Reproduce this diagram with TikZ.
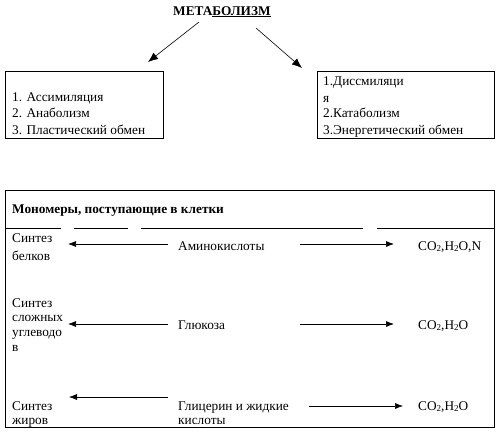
\documentclass[tikz,border=0pt]{standalone}
\usepackage{fontspec}
\setmainfont{Liberation Serif}
\usetikzlibrary{arrows.meta}
\newcommand\sbtwo{\raisebox{-0.3ex}{\fontsize{9}{9}\selectfont 2}}
\tikzset{
  txt/.style={anchor=base west,inner sep=0pt,font=\fontsize{13.3}{15}\selectfont},
  box/.style={draw,line width=0.8pt},
  bigarr/.style={line width=0.6pt,-{Latex[length=10pt,width=8pt]}},
  arr/.style={line width=0.7pt,-{Latex[length=8pt,width=6pt]}},
  thinarr/.style={line width=0.5pt,-{Latex[length=8pt,width=6pt]}},
}
\begin{document}
\begin{tikzpicture}[x=1pt,y=-1pt]
\useasboundingbox (0,0) rectangle (500,432);
% title
\node[txt,font=\bfseries\fontsize{13.3}{15}\selectfont] (title) at (173,15) {МЕТА\underline{БОЛИЗМ}};
\coordinate (t1) at (199,22);
\coordinate (t2) at (256,28);
\coordinate (lb) at (148,62);
\coordinate (rb) at (302,68);
\draw[bigarr] (t1) -- (lb);
\draw[bigarr] (t2) -- (rb);
% left box
\draw[box] (5,71) rectangle (163,138);
\node[txt] (a1) at (12,101) {1. Ассимиляция};
\node[txt] (a2) at (12,117) {2. Анаболизм};
\node[txt] (a3) at (12,134) {3. Пластический обмен};
% right box
\draw[box] (317,71) rectangle (494,138);
\node[txt] (d1) at (323,85) {1.Диссмиляци};
\node[txt] (d1b) at (323,102) {я};
\node[txt] (d2) at (323,117) {2.Катаболизм};
\node[txt] (d3) at (323,134) {3.Энергетический обмен};
% bottom table
\draw[box] (5,190) rectangle (494,427);
\node[txt,font=\bfseries\fontsize{13.3}{15}\selectfont] (hdr) at (12,213) {Мономеры, поступающие в клетки};
\draw[line width=0.8pt] (5,228) -- (61,228) (74,228) -- (128,228) (141,228) -- (363,228) (377,228) -- (494,228);
% row 1
\node[txt] (s1a) at (12,242) {Синтез};
\node[txt] (s1b) at (12,260) {белков};
\node[txt] (m1) at (178,250) {Аминокислоты};
\node[txt] (p1) at (418,250) {CO\sbtwo,H\sbtwo O,N};
\coordinate (l1s) at (168,244); \coordinate (l1e) at (68,244);
\coordinate (r1s) at (300,244); \coordinate (r1e) at (394,244);
\draw[arr] (l1s) -- (l1e);
\draw[arr] (r1s) -- (r1e);
% row 2
\node[txt] (s2a) at (12,307) {Синтез};
\node[txt] (s2b) at (12,321) {сложных};
\node[txt] (s2c) at (12,336) {углеводо};
\node[txt] (s2d) at (12,351) {в};
\node[txt] (m2) at (178,329) {Глюкоза};
\node[txt] (p2) at (418,329) {CO\sbtwo,H\sbtwo O};
\coordinate (l2s) at (168,324); \coordinate (l2e) at (68,324);
\coordinate (r2s) at (300,324); \coordinate (r2e) at (394,324);
\draw[arr] (l2s) -- (l2e);
\draw[arr] (r2s) -- (r2e);
% row 3
\node[txt] (s3a) at (12,410) {Синтез};
\node[txt] (s3b) at (12,424) {жиров};
\node[txt] (m3a) at (178,410) {Глицерин и жидкие};
\node[txt] (m3b) at (178,424) {кислоты};
\node[txt] (p3) at (418,410) {CO\sbtwo,H\sbtwo O};
\coordinate (l3s) at (168,397); \coordinate (l3e) at (69,397);
\coordinate (r3s) at (309,406); \coordinate (r3e) at (403,406);
\draw[thinarr] (l3s) -- (l3e);
\draw[thinarr] (r3s) -- (r3e);
\end{tikzpicture}
\end{document}
